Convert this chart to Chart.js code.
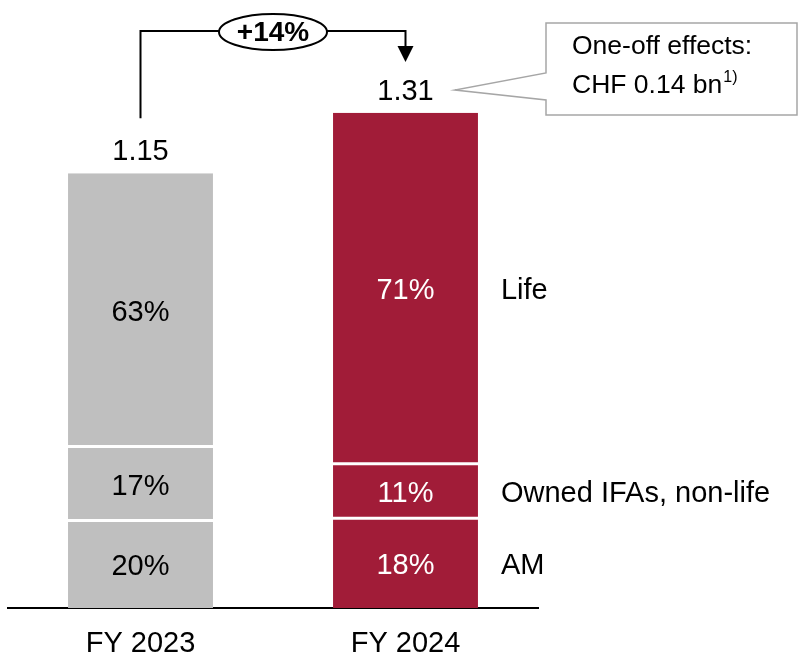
<!DOCTYPE html>
<html>
<head>
<meta charset="utf-8">
<script src="https://cdn.jsdelivr.net/npm/chart.js@4/dist/chart.umd.min.js"></script>
<style>
    body { margin: 0; background: #fff; }
    canvas { display: block; }
</style>
</head>
<body>
<canvas id="profitChart" width="799" height="653"></canvas>
<script>
// Values
const categories = ['FY 2023', 'FY 2024'];
const totals = [1.15, 1.31];
const amShare = [20, 18];
const ifaShare = [17, 11];
const lifeShare = [63, 71];
const segmentNames = ['AM', 'Owned IFAs, non-life', 'Life'];
const growthLabel = '+14%';
const calloutLines = ['One-off effects:', 'CHF 0.14 bn'];
const calloutNote = '1)';

const FONT = '"Liberation Sans", Arial, sans-serif';
const TEXT_SIZE = 29;
const GREY = '#bfbfbf';
const RED = '#a11c38';

// bar height of a segment = total * share
function segment(shares) {
    return shares.map((s, i) => totals[i] * s / 100);
}

const shares = [amShare, ifaShare, lifeShare];

const labelsPlugin = {
    id: 'labelsPlugin',
    afterDatasetsDraw(chart) {
        const ctx = chart.ctx;
        ctx.save();
        ctx.font = TEXT_SIZE + 'px ' + FONT;
        ctx.textAlign = 'center';
        ctx.textBaseline = 'middle';

        // share labels inside the segments
        shares.forEach((arr, d) => {
            const meta = chart.getDatasetMeta(d);
            meta.data.forEach((bar, i) => {
                ctx.fillStyle = i === 0 ? '#000' : '#fff';
                ctx.fillText(arr[i] + '%', bar.x, (bar.y + bar.base) / 2 + 2.5);
            });
        });

        // totals above the bars
        const topMeta = chart.getDatasetMeta(shares.length - 1);
        ctx.fillStyle = '#000';
        ctx.textBaseline = 'alphabetic';
        topMeta.data.forEach((bar, i) => {
            ctx.fillText(totals[i].toFixed(2), bar.x, bar.y - 13);
        });

        // segment names to the right of the last bar
        ctx.textAlign = 'left';
        ctx.textBaseline = 'middle';
        const last = categories.length - 1;
        segmentNames.forEach((name, d) => {
            const bar = chart.getDatasetMeta(d).data[last];
            ctx.fillText(name, bar.x + bar.width / 2 + 23, (bar.y + bar.base) / 2 + 2.5);
        });

        // growth arrow
        const b0 = topMeta.data[0];
        const b1 = topMeta.data[1];
        const lineY = 31;
        const midX = (b0.x + b1.x) / 2;
        ctx.strokeStyle = '#000';
        ctx.lineWidth = 2;
        ctx.beginPath();
        ctx.moveTo(b0.x, b0.y - 55);
        ctx.lineTo(b0.x, lineY);
        ctx.lineTo(midX - 54, lineY);
        ctx.moveTo(midX + 54, lineY);
        ctx.lineTo(b1.x, lineY);
        ctx.lineTo(b1.x, 46);
        ctx.stroke();
        ctx.fillStyle = '#000';
        ctx.beginPath();
        ctx.moveTo(b1.x - 8, 46);
        ctx.lineTo(b1.x + 8, 46);
        ctx.lineTo(b1.x, 62);
        ctx.closePath();
        ctx.fill();
        ctx.beginPath();
        ctx.ellipse(midX, 32, 54, 18, 0, 0, Math.PI * 2);
        ctx.fillStyle = '#fff';
        ctx.fill();
        ctx.stroke();
        ctx.fillStyle = '#000';
        ctx.textAlign = 'center';
        ctx.font = 'bold 28px ' + FONT;
        ctx.fillText(growthLabel, midX, 33);

        // callout box
        ctx.strokeStyle = '#a6a6a6';
        ctx.lineWidth = 1.5;
        ctx.fillStyle = '#fff';
        ctx.beginPath();
        ctx.moveTo(546, 23);
        ctx.lineTo(797, 23);
        ctx.lineTo(797, 115);
        ctx.lineTo(546, 115);
        ctx.lineTo(546, 100);
        ctx.lineTo(455, 90);
        ctx.lineTo(546, 73);
        ctx.closePath();
        ctx.fill();
        ctx.stroke();

        ctx.fillStyle = '#000';
        ctx.textAlign = 'left';
        ctx.textBaseline = 'alphabetic';
        ctx.font = '26.5px ' + FONT;
        ctx.fillText(calloutLines[0], 572, 54);
        ctx.fillText(calloutLines[1], 572, 93);
        const w = ctx.measureText(calloutLines[1]).width;
        ctx.font = '16px ' + FONT;
        ctx.fillText(calloutNote, 572 + w + 1, 82);

        ctx.restore();
    }
};

new Chart(document.getElementById('profitChart'), {
    type: 'bar',
    data: {
        labels: categories,
        datasets: shares.map((arr, d) => ({
            label: segmentNames[d],
            data: segment(arr),
            backgroundColor: [GREY, RED],
            borderColor: '#fff',
            borderSkipped: false,
            borderWidth: d === 0 ? { top: 1, bottom: 0, left: 0, right: 0 }
                : d === 1 ? { top: 1, bottom: 2, left: 0, right: 0 }
                : { top: 0, bottom: 2, left: 0, right: 0 },
            barPercentage: 1,
            categoryPercentage: 0.547
        }))
    },
    options: {
        responsive: false,
        animation: false,
        layout: {
            padding: { left: 8, right: 261, top: 3, bottom: 0 }
        },
        plugins: {
            legend: { display: false },
            tooltip: { enabled: false }
        },
        scales: {
            x: {
                stacked: true,
                grid: { display: false },
                border: { display: true, color: '#000', width: 2 },
                ticks: {
                    color: '#000',
                    font: { family: FONT, size: TEXT_SIZE },
                    padding: 11
                },
                afterFit(scale) { scale.height = 45; }
            },
            y: {
                stacked: true,
                display: false,
                min: 0,
                max: 1.6
            }
        }
    },
    plugins: [labelsPlugin]
});
</script>
</body>
</html>
